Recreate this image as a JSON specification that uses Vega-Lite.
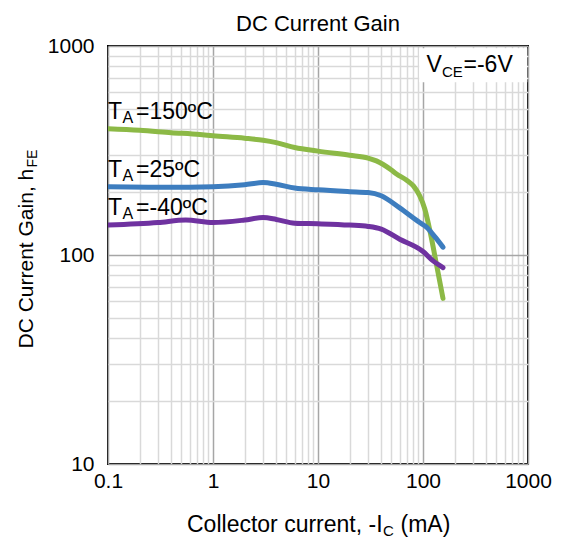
{
  "$schema": "https://vega.github.io/schema/vega-lite/v6.json",
  "width": 420,
  "height": 418,
  "autosize": {"type": "none"},
  "padding": {"left": 108, "top": 46, "right": 35, "bottom": 83},
  "config": {
    "view": {"stroke": "black", "strokeWidth": 2},
    "font": "Liberation Sans",
    "text": {"font": "Liberation Sans", "color": "black"}
  },
  "datasets": {
    "curves": [
      {"temp": "150ºC", "ic": 0.1, "hfe": 402},
      {"temp": "150ºC", "ic": 0.2, "hfe": 395},
      {"temp": "150ºC", "ic": 0.4, "hfe": 385},
      {"temp": "150ºC", "ic": 0.75, "hfe": 377},
      {"temp": "150ºC", "ic": 1, "hfe": 372},
      {"temp": "150ºC", "ic": 2, "hfe": 362},
      {"temp": "150ºC", "ic": 3, "hfe": 354},
      {"temp": "150ºC", "ic": 4, "hfe": 345},
      {"temp": "150ºC", "ic": 6, "hfe": 327},
      {"temp": "150ºC", "ic": 10, "hfe": 314},
      {"temp": "150ºC", "ic": 20, "hfe": 300},
      {"temp": "150ºC", "ic": 30, "hfe": 291},
      {"temp": "150ºC", "ic": 36, "hfe": 282},
      {"temp": "150ºC", "ic": 50, "hfe": 255},
      {"temp": "150ºC", "ic": 56, "hfe": 244},
      {"temp": "150ºC", "ic": 70, "hfe": 228},
      {"temp": "150ºC", "ic": 81, "hfe": 214},
      {"temp": "150ºC", "ic": 93, "hfe": 192},
      {"temp": "150ºC", "ic": 104, "hfe": 166},
      {"temp": "150ºC", "ic": 117, "hfe": 129},
      {"temp": "150ºC", "ic": 135, "hfe": 89},
      {"temp": "150ºC", "ic": 155, "hfe": 62},
      {"temp": "25ºC", "ic": 0.1, "hfe": 212},
      {"temp": "25ºC", "ic": 0.3, "hfe": 211},
      {"temp": "25ºC", "ic": 0.6, "hfe": 211},
      {"temp": "25ºC", "ic": 1, "hfe": 212},
      {"temp": "25ºC", "ic": 2, "hfe": 217},
      {"temp": "25ºC", "ic": 3, "hfe": 222},
      {"temp": "25ºC", "ic": 4, "hfe": 218},
      {"temp": "25ºC", "ic": 6, "hfe": 209},
      {"temp": "25ºC", "ic": 10, "hfe": 205},
      {"temp": "25ºC", "ic": 20, "hfe": 201},
      {"temp": "25ºC", "ic": 30, "hfe": 199},
      {"temp": "25ºC", "ic": 40, "hfe": 192},
      {"temp": "25ºC", "ic": 60, "hfe": 168},
      {"temp": "25ºC", "ic": 93, "hfe": 143},
      {"temp": "25ºC", "ic": 108, "hfe": 136},
      {"temp": "25ºC", "ic": 130, "hfe": 122},
      {"temp": "25ºC", "ic": 155, "hfe": 109},
      {"temp": "-40ºC", "ic": 0.1, "hfe": 139},
      {"temp": "-40ºC", "ic": 0.3, "hfe": 143},
      {"temp": "-40ºC", "ic": 0.55, "hfe": 147},
      {"temp": "-40ºC", "ic": 1, "hfe": 143},
      {"temp": "-40ºC", "ic": 2, "hfe": 147},
      {"temp": "-40ºC", "ic": 3, "hfe": 151},
      {"temp": "-40ºC", "ic": 4, "hfe": 148},
      {"temp": "-40ºC", "ic": 6, "hfe": 142},
      {"temp": "-40ºC", "ic": 10, "hfe": 141},
      {"temp": "-40ºC", "ic": 20, "hfe": 139},
      {"temp": "-40ºC", "ic": 30, "hfe": 137},
      {"temp": "-40ºC", "ic": 40, "hfe": 133},
      {"temp": "-40ºC", "ic": 60, "hfe": 119},
      {"temp": "-40ºC", "ic": 100, "hfe": 104},
      {"temp": "-40ºC", "ic": 124, "hfe": 94},
      {"temp": "-40ºC", "ic": 140, "hfe": 90},
      {"temp": "-40ºC", "ic": 155, "hfe": 87}
    ]
  },
  "layer": [
    {
      "data": {"name": "curves"},
      "mark": {"type": "line", "strokeWidth": 5, "interpolate": "monotone", "strokeCap": "round", "clip": true},
      "encoding": {
        "x": {
          "field": "ic", "type": "quantitative",
          "scale": {"type": "log", "domain": [0.1, 1000], "nice": false},
          "axis": {
            "title": null,
            "values": [0.1,0.2,0.3,0.4,0.5,0.6,0.7,0.8,0.9,1,2,3,4,5,6,7,8,9,10,20,30,40,50,60,70,80,90,100,200,300,400,500,600,700,800,900,1000],
            "labelExpr": "indexof([0.1,1,10,100,1000], datum.value) >= 0 ? '' + datum.value : ''",
            "ticks": false, "domain": false, "grid": true,
            "gridColor": {"condition": {"test": "indexof([0.1,1,10,100,1000], datum.value) >= 0", "value": "#a6a6a6"}, "value": "#d9d9d9"},
            "gridWidth": 1.5,
            "labelFontSize": 21, "labelFont": "Liberation Sans", "labelColor": "black",
            "labelPadding": 6, "labelOverlap": false, "labelFlush": false, "labelBound": false
          }
        },
        "y": {
          "field": "hfe", "type": "quantitative",
          "scale": {"type": "log", "domain": [10, 1000], "nice": false},
          "axis": {
            "title": null,
            "values": [10,20,30,40,50,60,70,80,90,100,200,300,400,500,600,700,800,900,1000],
            "labelExpr": "indexof([10,100,1000], datum.value) >= 0 ? '' + datum.value : ''",
            "ticks": false, "domain": false, "grid": true,
            "gridColor": {"condition": {"test": "indexof([10,100,1000], datum.value) >= 0", "value": "#a6a6a6"}, "value": "#d9d9d9"},
            "gridWidth": 1.5,
            "labelFontSize": 21, "labelFont": "Liberation Sans", "labelColor": "black",
            "labelPadding": 14, "labelOverlap": false, "labelFlush": false, "labelBound": false
          }
        },
        "color": {
          "field": "temp", "type": "nominal",
          "scale": {"domain": ["150ºC", "25ºC", "-40ºC"], "range": ["#8cb946", "#3d7dbf", "#6f32a0"]},
          "legend": null
        }
      }
    },
    {
      "data": {"values": [{}]},
      "mark": {"type": "rect", "fill": "white"},
      "encoding": {
        "x": {"datum": 92, "type": "quantitative", "title": null},
        "x2": {"datum": 985},
        "y": {"datum": 975, "type": "quantitative", "title": null},
        "y2": {"datum": 670}
      }
    },
    {
      "data": {"name": "curves"},
      "transform": [{"filter": "datum.ic == 0.1"}],
      "mark": {"type": "text", "text": "T", "align": "left", "baseline": "alphabetic", "dx": 0, "dy": -10, "fontSize": 23},
      "encoding": {"x": {"field": "ic", "type": "quantitative", "title": null}, "y": {"field": "hfe", "type": "quantitative", "title": null}}
    },
    {
      "data": {"name": "curves"},
      "transform": [{"filter": "datum.ic == 0.1"}],
      "mark": {"type": "text", "text": "A", "align": "left", "baseline": "alphabetic", "dx": 14.5, "dy": -6, "fontSize": 16},
      "encoding": {"x": {"field": "ic", "type": "quantitative", "title": null}, "y": {"field": "hfe", "type": "quantitative", "title": null}}
    },
    {
      "data": {"name": "curves"},
      "transform": [{"filter": "datum.ic == 0.1"}],
      "mark": {"type": "text", "text": "=", "align": "left", "baseline": "alphabetic", "dx": 28, "dy": -10, "fontSize": 23},
      "encoding": {"x": {"field": "ic", "type": "quantitative", "title": null}, "y": {"field": "hfe", "type": "quantitative", "title": null}}
    },
    {
      "data": {"name": "curves"},
      "transform": [{"filter": "datum.ic == 0.1"}],
      "mark": {"type": "text", "align": "left", "baseline": "alphabetic", "dx": 41.5, "dy": -10, "fontSize": 23},
      "encoding": {"x": {"field": "ic", "type": "quantitative", "title": null}, "y": {"field": "hfe", "type": "quantitative", "title": null}, "text": {"field": "temp"}}
    },
    {
      "data": {"values": [{}]},
      "mark": {"type": "text", "text": "DC Current Gain", "align": "center", "baseline": "alphabetic", "dy": -15, "fontSize": 22},
      "encoding": {"x": {"datum": 10, "type": "quantitative", "title": null}, "y": {"datum": 1000, "type": "quantitative", "title": null}}
    },
    {
      "data": {"values": [{}]},
      "mark": {"type": "text", "text": "V", "align": "left", "baseline": "alphabetic", "dx": 0, "dy": 0, "fontSize": 23},
      "encoding": {"x": {"datum": 108, "type": "quantitative", "title": null}, "y": {"datum": 750, "type": "quantitative", "title": null}}
    },
    {
      "data": {"values": [{}]},
      "mark": {"type": "text", "text": "CE", "align": "left", "baseline": "alphabetic", "dx": 15.5, "dy": 5, "fontSize": 15},
      "encoding": {"x": {"datum": 108, "type": "quantitative", "title": null}, "y": {"datum": 750, "type": "quantitative", "title": null}}
    },
    {
      "data": {"values": [{}]},
      "mark": {"type": "text", "text": "=-6V", "align": "left", "baseline": "alphabetic", "dx": 37, "dy": 0, "fontSize": 23},
      "encoding": {"x": {"datum": 108, "type": "quantitative", "title": null}, "y": {"datum": 750, "type": "quantitative", "title": null}}
    },
    {
      "data": {"values": [{}]},
      "mark": {"type": "text", "text": "DC Current Gain, h", "align": "left", "baseline": "alphabetic", "angle": 270, "dx": 0, "dy": -75, "fontSize": 21},
      "encoding": {"x": {"datum": 0.1, "type": "quantitative", "title": null}, "y": {"datum": 35.7, "type": "quantitative", "title": null}}
    },
    {
      "data": {"values": [{}]},
      "mark": {"type": "text", "text": "FE", "align": "left", "baseline": "alphabetic", "angle": 270, "dx": 181, "dy": -71, "fontSize": 14},
      "encoding": {"x": {"datum": 0.1, "type": "quantitative", "title": null}, "y": {"datum": 35.7, "type": "quantitative", "title": null}}
    },
    {
      "data": {"values": [{}]},
      "mark": {"type": "text", "text": "Collector current, -I", "align": "left", "baseline": "alphabetic", "dx": 0, "dy": 68, "fontSize": 23},
      "encoding": {"x": {"datum": 0.5655, "type": "quantitative", "title": null}, "y": {"datum": 10, "type": "quantitative", "title": null}}
    },
    {
      "data": {"values": [{}]},
      "mark": {"type": "text", "text": "C", "align": "left", "baseline": "alphabetic", "dx": 196, "dy": 72, "fontSize": 15},
      "encoding": {"x": {"datum": 0.5655, "type": "quantitative", "title": null}, "y": {"datum": 10, "type": "quantitative", "title": null}}
    },
    {
      "data": {"values": [{}]},
      "mark": {"type": "text", "text": "(mA)", "align": "left", "baseline": "alphabetic", "dx": 213.5, "dy": 68, "fontSize": 23},
      "encoding": {"x": {"datum": 0.5655, "type": "quantitative", "title": null}, "y": {"datum": 10, "type": "quantitative", "title": null}}
    }
  ]
}
